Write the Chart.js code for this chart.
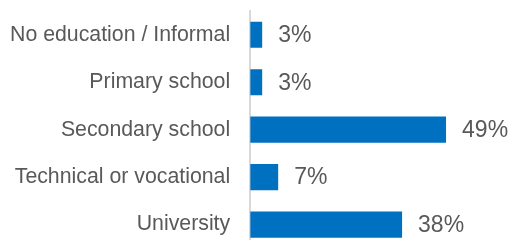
<!DOCTYPE html>
<html>
<head>
<meta charset="utf-8">
<script src="https://cdn.jsdelivr.net/npm/chart.js@4"></script>
<style>
    html, body { margin: 0; padding: 0; background: #fff; overflow: hidden; }
    #wrap { width: 510px; height: 240px; overflow: hidden; }
</style>
</head>
<body>
<div id="wrap">
    <canvas id="edu-chart" width="510" height="259"></canvas>
</div>
<script>
// Dane wykresu
const categories = ['No education / Informal', 'Primary school', 'Secondary school', 'Technical or vocational', 'University'];
const shares = [3, 3, 49, 7, 38];
const valueLabels = ['3%', '3%', '49%', '7%', '38%'];

// Etykiety wartości przy słupkach
const barLabels = {
    id: 'barLabels',
    afterDatasetsDraw(chart) {
        const ctx = chart.ctx;
        const meta = chart.getDatasetMeta(0);
        ctx.save();
        ctx.font = '23px "Liberation Sans", Arial, sans-serif';
        ctx.fillStyle = '#595959';
        ctx.textAlign = 'left';
        ctx.textBaseline = 'middle';
        meta.data.forEach((bar, i) => {
            ctx.fillText(valueLabels[i], bar.x + 16, bar.y + 1);
        });
        ctx.restore();
    }
};

const ctx = document.getElementById('edu-chart').getContext('2d');

new Chart(ctx, {
    type: 'bar',
    data: {
        labels: categories,
        datasets: [{
            data: shares,
            backgroundColor: '#0070C0',
            borderWidth: 0,
            barPercentage: 0.55,
            categoryPercentage: 1
        }]
    },
    options: {
        indexAxis: 'y',
        responsive: false,
        animation: false,
        layout: {
            padding: { left: 10, right: 0, top: 11, bottom: 0 }
        },
        plugins: {
            legend: { display: false },
            tooltip: { enabled: false }
        },
        scales: {
            x: {
                display: false,
                min: 0,
                max: 65
            },
            y: {
                grid: { display: false, drawTicks: true, tickLength: 20 },
                border: { display: true, color: '#d9d9d9', width: 2 },
                ticks: {
                    color: '#595959',
                    padding: 0,
                    font: { family: '"Liberation Sans", Arial, sans-serif', size: 21.3, lineHeight: 1 }
                }
            }
        }
    },
    plugins: [barLabels]
});
</script>
</body>
</html>
